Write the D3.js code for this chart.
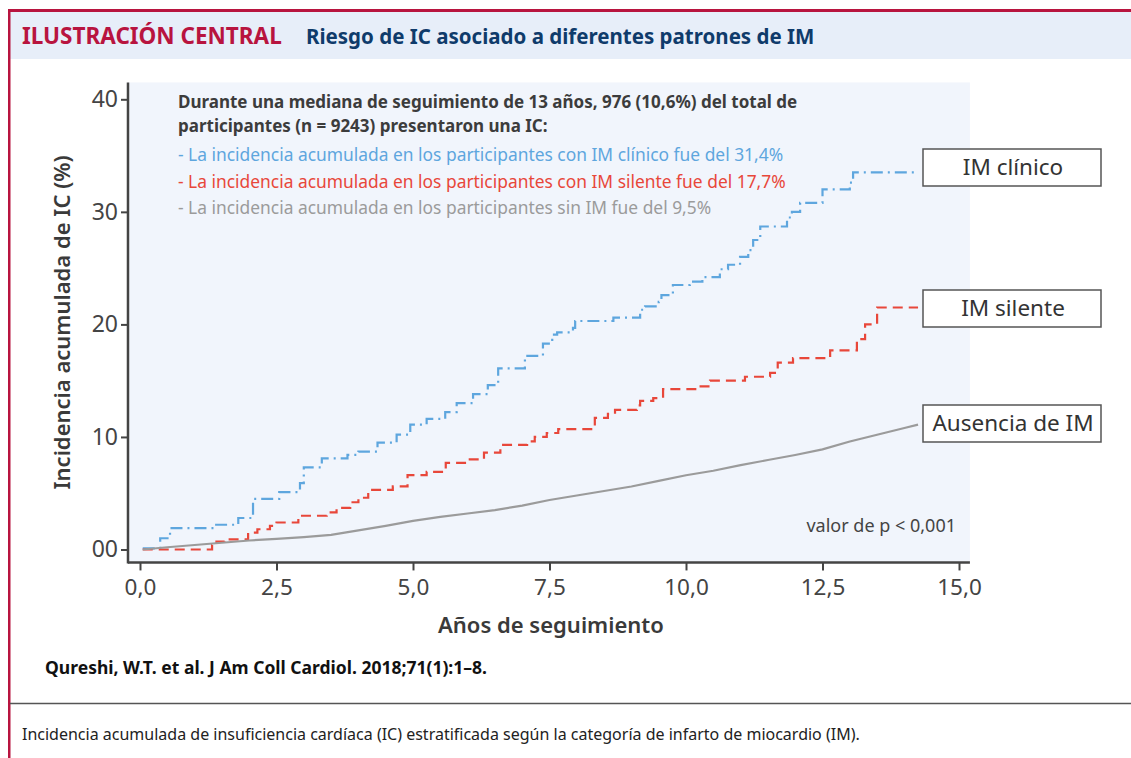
<!DOCTYPE html>
<html>
<head>
<meta charset="utf-8">
<script src="https://cdn.jsdelivr.net/npm/d3@7"></script>
<style>
  body { margin: 0; background: #fff; }
  svg text { font-family: "Noto Sans", "DejaVu Sans", sans-serif; }
</style>
</head>
<body>
<svg id="chart" width="1131" height="758"></svg>
<script>
// years of follow-up and cumulative incidence (%)
var clinicoYears = [0.05, 0.37, 0.55, 1.35, 1.8, 2.07, 2.55, 2.93, 3.0, 3.33, 3.8, 4.0, 4.35, 4.7,
  4.95, 5.25, 5.59, 5.8, 6.1, 6.37, 6.56, 7.05, 7.38, 7.55, 7.64, 7.93, 7.97, 8.67, 9.16, 9.25,
  9.5, 9.55, 9.76, 10.07, 10.3, 10.62, 10.77, 10.99, 11.14, 11.23, 11.36, 11.85, 11.94, 12.09,
  12.5, 13.0, 13.06, 14.25];
var clinicoValues = [0.1, 1.0, 1.9, 2.2, 2.8, 4.5, 5.1, 5.9, 7.3, 8.1, 8.4, 8.7, 9.5, 10.2,
  11.1, 11.6, 12.2, 13.0, 13.8, 14.6, 16.1, 17.2, 18.3, 19.1, 19.3, 19.7, 20.3, 20.6, 21.3, 21.6,
  22.0, 22.6, 23.5, 23.8, 24.2, 24.9, 25.3, 26.0, 26.6, 27.5, 28.7, 29.5, 30.0, 30.8,
  32.0, 32.6, 33.5, 33.5];

var silenteYears = [0.05, 1.32, 1.4, 1.55, 1.98, 2.15, 2.38, 2.5, 2.9, 3.42, 3.6, 3.85, 4.0, 4.18,
  4.63, 4.9, 5.25, 5.6, 6.0, 6.3, 6.6, 7.09, 7.23, 7.45, 7.66, 8.33, 8.57, 8.7, 9.1, 9.16, 9.4,
  9.58, 10.2, 10.44, 11.08, 11.54, 11.68, 11.96, 12.64, 13.13, 13.28, 13.5, 14.25];
var silenteValues = [0, 0.4, 0.7, 0.9, 1.5, 1.8, 2.1, 2.4, 3.0, 3.3, 3.7, 4.2, 4.6, 5.3,
  5.6, 6.6, 6.9, 7.7, 8.0, 8.6, 9.3, 9.6, 10.0, 10.35, 10.7, 11.7, 12.05, 12.4, 12.8, 13.2, 13.45,
  14.25, 14.5, 15.0, 15.35, 15.7, 16.6, 17.0, 17.7, 18.7, 20.0, 21.5, 21.5];

var sinImYears = [0.05, 0.5, 1.0, 1.5, 2.0, 2.5, 3.0, 3.5, 4.0, 4.5, 5.0, 5.5, 6.0, 6.5, 7.0,
  7.5, 8.0, 8.5, 9.0, 9.5, 10.0, 10.5, 11.0, 11.5, 12.0, 12.5, 13.0, 13.5, 14.0, 14.25];
var sinImValues = [0, 0.2, 0.4, 0.6, 0.8, 0.95, 1.1, 1.3, 1.7, 2.1, 2.55, 2.9, 3.2, 3.5, 3.9,
  4.4, 4.8, 5.2, 5.6, 6.1, 6.6, 7.0, 7.5, 7.95, 8.4, 8.9, 9.6, 10.2, 10.8, 11.1];

var xTicks = [0, 2.5, 5, 7.5, 10, 12.5, 15];
var yTicks = [0, 10, 20, 30, 40];
var yTickLabels = ["00", "10", "20", "30", "40"];

var seriesNames = ["IM clínico", "IM silente", "Ausencia de IM"];
var introLines = ["Durante una mediana de seguimiento de 13 años, 976 (10,6%) del total de",
  "participantes (n = 9243) presentaron una IC:"];
var noteLines = ["- La incidencia acumulada en los participantes con IM clínico fue del 31,4%",
  "- La incidencia acumulada en los participantes con IM silente fue del 17,7%",
  "- La incidencia acumulada en los participantes sin IM fue del 9,5%"];

var colors = ["#5ea6de", "#e8473a", "#9b9b9b"];
var red = "#b8143f";

var svg = d3.select("#chart");

// frame and header band
svg.append("rect").attr("x", 10).attr("y", 12).attr("width", 1121).attr("height", 47)
  .attr("fill", "#e7eef9");
svg.append("rect").attr("x", 8).attr("y", 9).attr("width", 1123).attr("height", 3).attr("fill", red);
svg.append("rect").attr("x", 8).attr("y", 9).attr("width", 2.5).attr("height", 749).attr("fill", red);

svg.append("text").attr("x", 22).attr("y", 44)
  .attr("fill", red).style("font-size", "22.5px").style("font-weight", "bold")
  .text("ILUSTRACIÓN CENTRAL");
svg.append("text").attr("x", 306).attr("y", 44)
  .attr("fill", "#0f3b6b").style("font-size", "20.5px").style("font-weight", "bold")
  .text("Riesgo de IC asociado a diferentes patrones de IM");

// scales
var x = d3.scaleLinear().domain([0, 15]).range([140, 959]);
var y = d3.scaleLinear().domain([0, 40]).range([549.5, 99.3]);

// plot background
svg.append("rect")
  .attr("x", x(-0.22)).attr("y", y(41.5))
  .attr("width", x(15.2) - x(-0.22)).attr("height", y(-1.15) - y(41.5))
  .attr("fill", "#f1f5fc");

// axes
var yAxis = svg.append("g")
  .attr("transform", "translate(" + x(-0.22) + ",0)")
  .call(d3.axisLeft(y).tickValues(yTicks).tickSize(7).tickPadding(3)
    .tickFormat(function(d, i) { return yTickLabels[i]; }));
yAxis.select(".domain").remove();
yAxis.selectAll("line").attr("stroke", "#444").attr("stroke-width", 2);
yAxis.selectAll("text").attr("fill", "#444").style("font-size", "23px")
  .style("font-family", "'Noto Sans', sans-serif");

var xAxis = svg.append("g")
  .attr("transform", "translate(0," + y(-1.15) + ")")
  .call(d3.axisBottom(x).tickValues(xTicks).tickSize(8).tickPadding(9)
    .tickFormat(function(d) { return d3.format(".1f")(d).replace(".", ","); }));
xAxis.select(".domain").remove();
xAxis.selectAll("line").attr("stroke", "#444").attr("stroke-width", 2);
xAxis.selectAll("text").attr("fill", "#444").style("font-size", "22.5px")
  .style("font-family", "'Noto Sans', sans-serif");

// axis lines
svg.append("line")
  .attr("x1", x(-0.22)).attr("x2", x(-0.22)).attr("y1", y(41.5)).attr("y2", y(-1.15) + 1)
  .attr("stroke", "#444").attr("stroke-width", 2.5);
svg.append("line")
  .attr("x1", x(-0.22)).attr("x2", x(15.2)).attr("y1", y(-1.15)).attr("y2", y(-1.15))
  .attr("stroke", "#444").attr("stroke-width", 2.5);

// axis titles
svg.append("text")
  .attr("transform", "translate(70," + (y(-1.15) + y(41.5)) / 2 + ") rotate(-90)")
  .attr("text-anchor", "middle").attr("fill", "#3a3a3a")
  .style("font-size", "22px").style("font-weight", "600")
  .text("Incidencia acumulada de IC (%)");
svg.append("text")
  .attr("x", (x(-0.22) + x(15.2)) / 2 + 2).attr("y", 633)
  .attr("text-anchor", "middle").attr("fill", "#3a3a3a")
  .style("font-size", "22px").style("font-weight", "600")
  .text("Años de seguimiento");

// curves
var series = [
  {years: clinicoYears, values: clinicoValues, dash: "12,5,2,5", curve: d3.curveStepAfter},
  {years: silenteYears, values: silenteValues, dash: "10,6", curve: d3.curveStepAfter},
  {years: sinImYears, values: sinImValues, dash: null, curve: d3.curveLinear}
];

series.forEach(function(s, i) {
  var pts = s.years.map(function(t, j) { return [t, s.values[j]]; });
  var line = d3.line()
    .x(function(d) { return x(d[0]); })
    .y(function(d) { return y(d[1]); })
    .curve(s.curve);
  svg.append("path")
    .datum(pts)
    .attr("d", line)
    .attr("fill", "none")
    .attr("stroke", colors[i])
    .attr("stroke-width", 2.2)
    .attr("stroke-dasharray", s.dash);
});

// end labels
var boxTops = [149, 290, 405];
seriesNames.forEach(function(name, i) {
  svg.append("rect")
    .attr("x", 923).attr("y", boxTops[i]).attr("width", 178).attr("height", 37)
    .attr("fill", "#fff").attr("stroke", "#555").attr("stroke-width", 1.5);
  svg.append("text")
    .attr("x", 1013).attr("y", boxTops[i] + 26)
    .attr("text-anchor", "middle").attr("fill", "#333").style("font-size", "22.5px")
    .text(name);
});

// text block inside the plot
introLines.forEach(function(t, i) {
  svg.append("text").attr("x", 178).attr("y", 108 + i * 24)
    .attr("fill", "#3c3c3c").style("font-size", "17px").style("font-weight", "bold")
    .text(t);
});
noteLines.forEach(function(t, i) {
  svg.append("text").attr("x", 178).attr("y", 161 + i * 26.5)
    .attr("fill", colors[i]).style("font-size", "17.4px")
    .text(t);
});

svg.append("text").attr("x", 956).attr("y", 532)
  .attr("text-anchor", "end").attr("fill", "#444").style("font-size", "18px")
  .text("valor de p < 0,001");

// source and caption
svg.append("text").attr("x", 45).attr("y", 674)
  .attr("fill", "#111").style("font-size", "17.5px").style("font-weight", "bold")
  .text("Qureshi, W.T. et al. J Am Coll Cardiol. 2018;71(1):1–8.");
svg.append("line").attr("x1", 10).attr("x2", 1131).attr("y1", 703.5).attr("y2", 703.5)
  .attr("stroke", "#555").attr("stroke-width", 1.5);
svg.append("text").attr("x", 22).attr("y", 740)
  .attr("fill", "#222").style("font-size", "16px")
  .text("Incidencia acumulada de insuficiencia cardíaca (IC) estratificada según la categoría de infarto de miocardio (IM).");
</script>
</body>
</html>
